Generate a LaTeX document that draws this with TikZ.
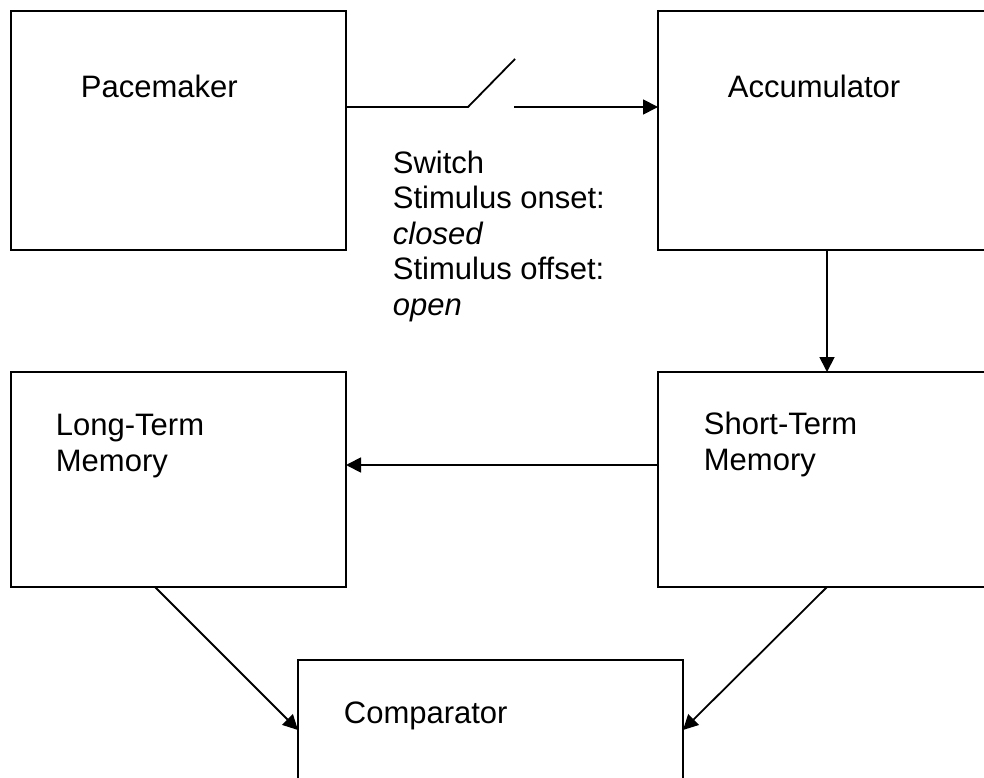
\documentclass[tikz,border=0pt]{standalone}
\usepackage{fontspec}
\setmainfont{Liberation Sans}
\usetikzlibrary{arrows.meta}

\begin{document}
\begin{tikzpicture}[x=1pt,y=-1pt,line width=1.8pt,
    >={Triangle[length=15pt,width=15pt]}]

      \clip (0,0) rectangle (984,778);

      \begin{scope}[every node/.style={rectangle,draw,outer sep=0pt,inner sep=0pt}]
        \node[minimum width=335pt,minimum height=239pt] (pace) at (178.5,130.5) {};
        \node[minimum width=338pt,minimum height=239pt] (accu) at (827,130.5)   {};
        \node[minimum width=335pt,minimum height=215pt] (ltm)  at (178.5,479.5) {};
        \node[minimum width=338pt,minimum height=215pt] (stm)  at (827,479.5)   {};
        \node[minimum width=385pt,minimum height=140pt] (comp) at (490.5,730)   {};
      \end{scope}

      % multi-line texts: base = last line
      \begin{scope}[every node/.style={anchor=base west,inner sep=0pt,
          font=\fontsize{31}{35.5}\selectfont,align=left}]
        \node (pacetxt) at (80,98)  {Pacemaker};
        \node (accutxt) at (727,98) {Accumulator};
        \node (swtxt)   at (392,315) {Switch\\Stimulus onset:\\\textit{closed}\\Stimulus offset:\\\textit{open}};
        \node (ltmtxt)  at (55,471)  {Long-Term\\Memory};
        \node (stmtxt)  at (703,470) {Short-Term\\Memory};
        \node (comptxt) at (343,723) {Comparator};
      \end{scope}

      % switch
      \coordinate (s1) at (468,107);
      \coordinate (s2) at (515,59);
      \coordinate (s3) at (514,107);
      \draw (s1 -| pace.east) -- (s1) -- (s2);
      \draw[->] (s3) -- (s3 -| accu.west);

      \coordinate (m) at (500,465);
      \begin{scope}[every edge/.style={draw,->}]
        \path (accu.south) edge (stm.north);
        \path (m -| stm.west) edge (m -| ltm.east);
        \path ([xshift=-23.5pt]ltm.south) edge (comp.west);
        \path (stm.south) edge (comp.east);
      \end{scope}

    \end{tikzpicture}
\end{document}
